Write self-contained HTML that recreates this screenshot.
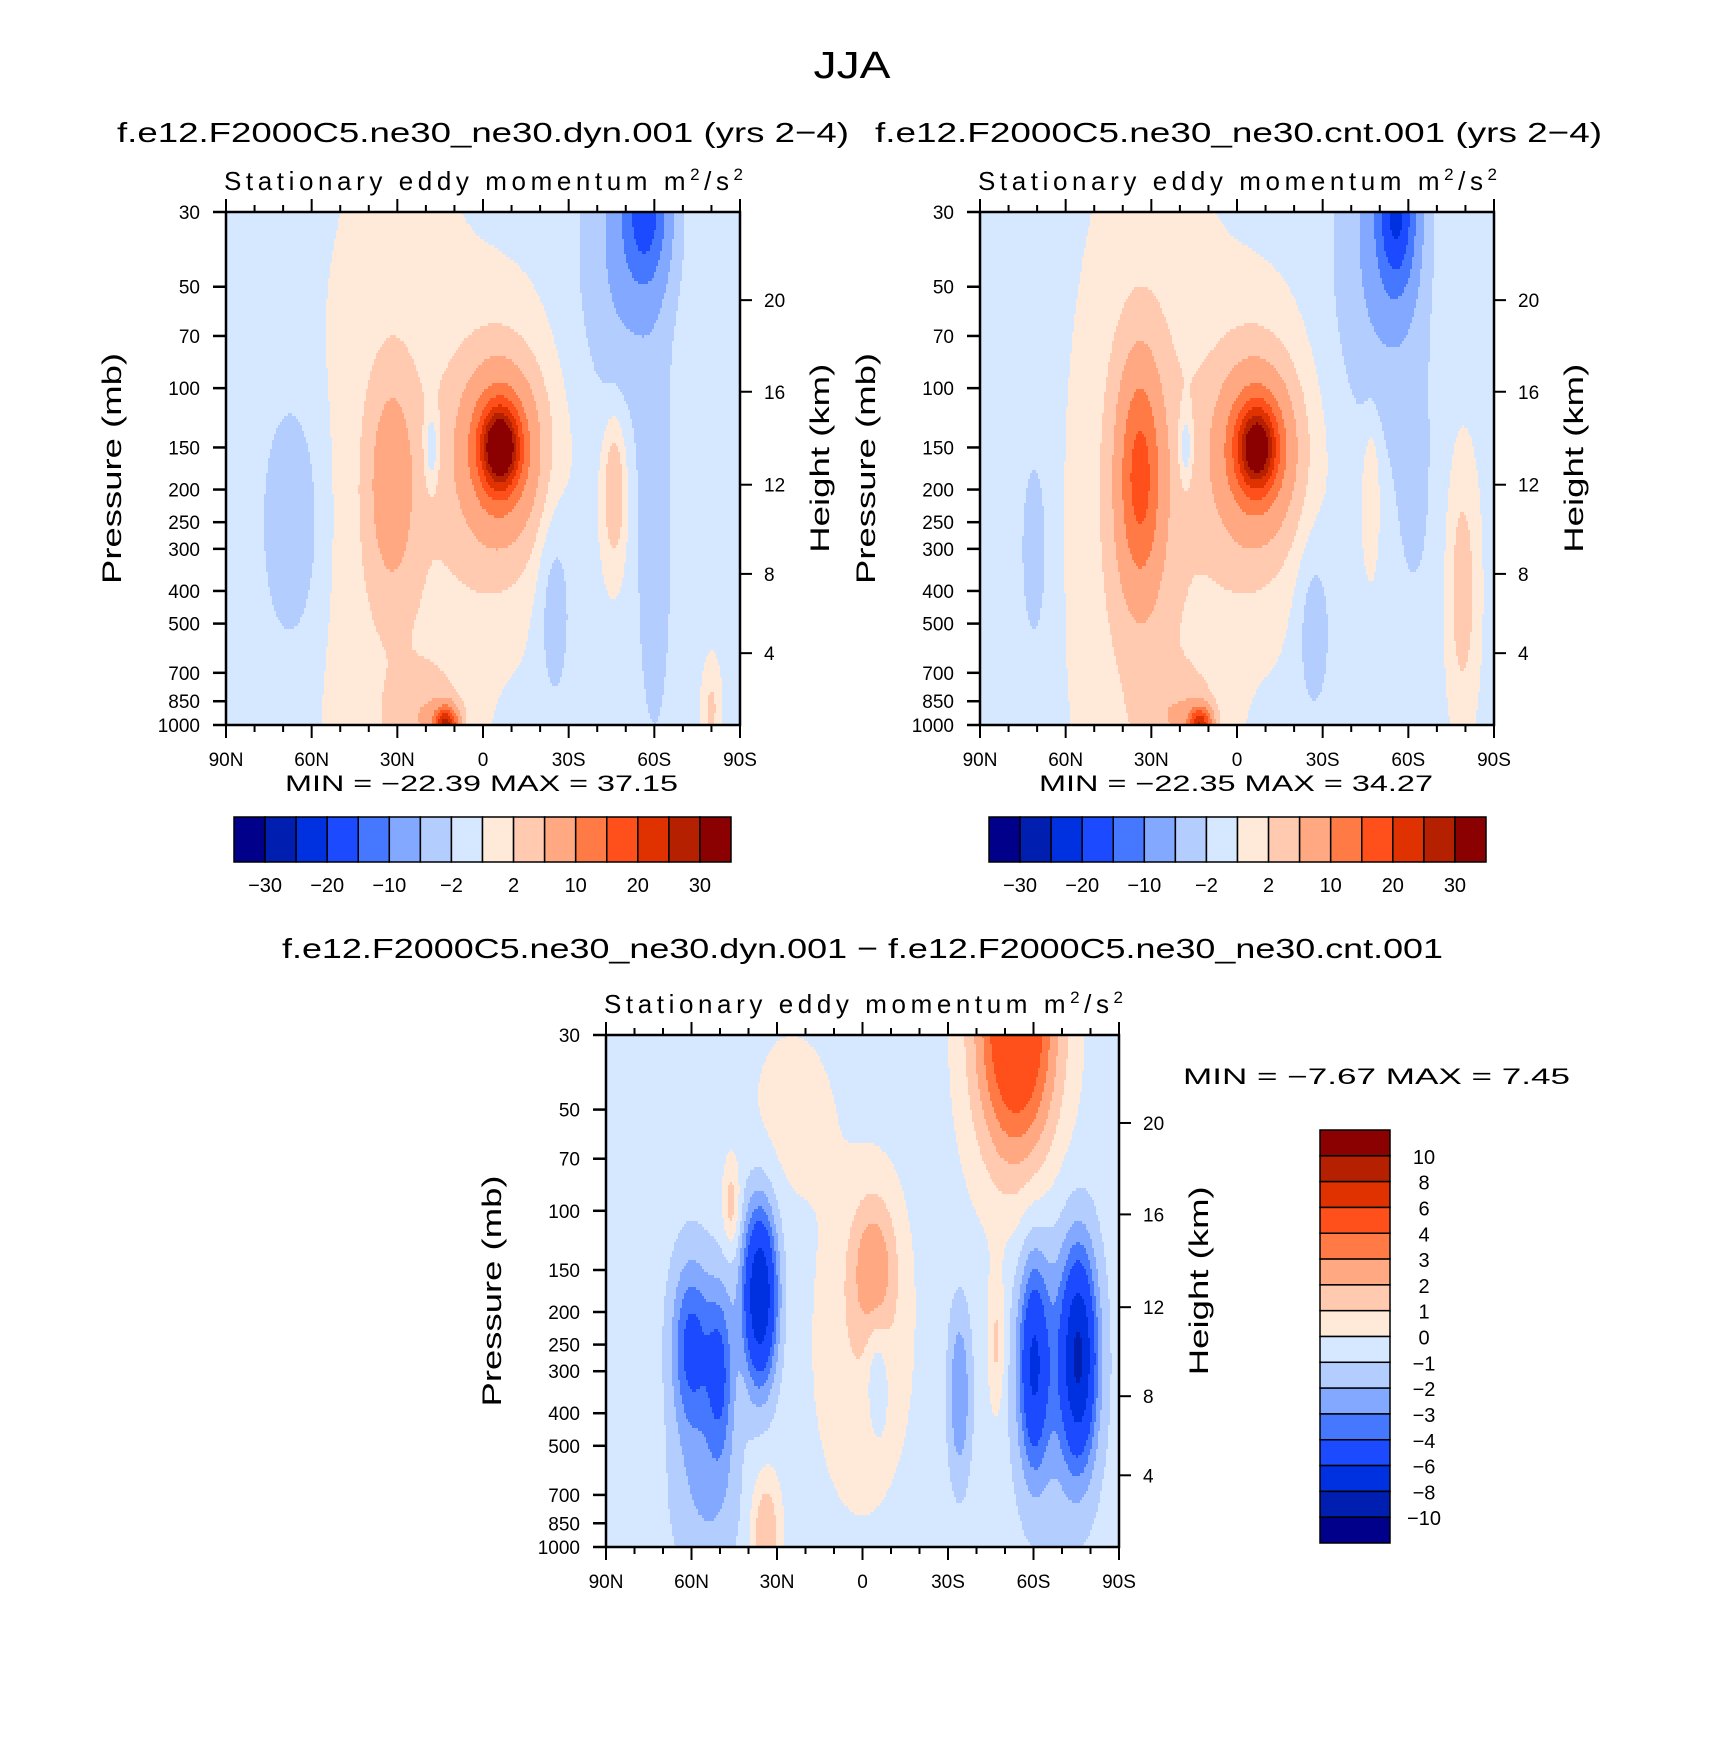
<!DOCTYPE html>
<html><head><meta charset="utf-8">
<style>
html,body{margin:0;padding:0;background:#fff;}
svg{display:block;font-family:"Liberation Sans",sans-serif;}
</style></head>
<body>
<svg id="fig" width="1710" height="1758" viewBox="0 0 1710 1758" xmlns="http://www.w3.org/2000/svg">
<text x="852" y="78" font-size="38" text-anchor="middle" textLength="77" lengthAdjust="spacingAndGlyphs">JJA</text>
<text x="117" y="142" font-size="28" textLength="732" lengthAdjust="spacingAndGlyphs">f.e12.F2000C5.ne30_ne30.dyn.001 (yrs 2−4)</text>
<text x="875" y="142" font-size="28" textLength="727" lengthAdjust="spacingAndGlyphs">f.e12.F2000C5.ne30_ne30.cnt.001 (yrs 2−4)</text>
<text x="282" y="958" font-size="28" textLength="1161" lengthAdjust="spacingAndGlyphs">f.e12.F2000C5.ne30_ne30.dyn.001 − f.e12.F2000C5.ne30_ne30.cnt.001</text>
<g id="panels"></g>
</svg>
<script>
// ---- shared data ----
const pressTicks = [30,50,70,100,150,200,250,300,400,500,700,850,1000];
const heightTickLabels = [20,16,12,8,4];
const heightTickPress = [54.8,102.5,193.5,356,612];
const latTickLabels = ['90N','60N','30N','0','30S','60S','90S'];
const latTickValues = [90,60,30,0,-30,-60,-90];
const absLevels = [-30,-25,-20,-15,-10,-5,-2,0,2,5,10,15,20,25,30];
const absLabels = ['−30','−20','−10','−2','2','10','20','30'];
const diffLevels = [-10,-8,-6,-4,-3,-2,-1,0,1,2,3,4,6,8,10];
const diffLabels = ['10','8','6','4','3','2','1','0','−1','−2','−3','−4','−6','−8','−10'];
const colors16 = ['#00008b','#001eb0','#0031e0','#1c4aff','#4577ff','#82a9ff','#b3cdff','#d6e8ff','#ffeada','#ffcab0','#ffa882','#ff7a45','#ff4f1a','#e03200','#b52000','#8b0000'];

// ---- dyn panel field (blobs: lat, pressure, amplitude, lat-width, lnp-width) ----
const dynLat = [-6,-6,-5,32,30,67,18,-57,-50,-60,-25,-46,13,20,-80];
const dynP   = [150,150,170,190,300,250,150,30,40,300,440,200,1000,950,900];
const dynAmp = [26,13,5,7,2.2,-4,-4,-14,-5,-3.5,-3,5,25,4,3];
const dynLW  = [6,12,18,8,25,10,2.5,8,15,6,6,4,4,12,3];
const dynPW  = [0.25,0.5,0.9,0.7,2.5,0.8,0.25,0.5,1.0,1.3,0.7,0.5,0.12,0.3,0.3];
const dynBase = -0.5;
// ---- cnt panel field ----
const cntLat = [-7,-7,-5,34,34,30,71,-56,-50,-27,-62,-79,-47,13,20,18];
const cntP   = [150,150,170,180,200,300,300,30,40,520,200,400,200,1000,950,150];
const cntAmp = [22,13,5,12,4,2.2,-3,-17,-5,-3,-2,4,3,22,4,-4];
const cntLW  = [6,12,18,7,12,25,5,7,15,6,8,5,3,4,12,2.5];
const cntPW  = [0.25,0.5,0.9,0.7,1.1,2.5,0.7,0.55,1.1,0.6,1.0,0.8,0.5,0.12,0.3,0.25];
const cntBase = -0.5;
// ---- difference panel field ----
const diffLat = [-54,60,50,36,46,-4,-5,-60,-76,-68,-34,-47,0,25,34,55];
const diffP   = [28,254,300,179,96,147,300,285,270,300,350,250,250,50,900,700];
const diffAmp = [6.5,-4,-3.5,-7.5,2,2.5,-1.5,-4.5,-6.5,-2,-2.5,1.8,1.3,1.0,2.5,-1.5];
const diffLW  = [15,7,5,6,3,8,4,5,6,14,4,3,18,15,5,12];
const diffPW  = [1.0,0.6,0.6,0.6,0.3,0.5,0.4,0.7,0.7,1.0,0.6,0.5,1.2,0.6,0.4,0.6];
const diffBase = -0.5;

const NS='http://www.w3.org/2000/svg';
const root=document.getElementById('panels');
function mk(tag,attrs,parent){const e=document.createElementNS(NS,tag);for(const k in attrs)e.setAttribute(k,attrs[k]);(parent||root).appendChild(e);return e;}
const LP0=Math.log(30),LP1=Math.log(1000);

function drawPanel(name,X0,Y0,W,H,lat,p,amp,lw,pw,base,levels){
  const g=mk('g',{});
  
  
  const xOf=l=>X0+(90-l)/180*W;
  const yOf=pr=>Y0+(Math.log(pr)-LP0)/(LP1-LP0)*H;
  const lnp=p.map(v=>Math.log(v));
  function field(la,pr){let v=base;const lp=Math.log(pr);
    for(let i=0;i<lat.length;i++){const a=(la-lat[i])/lw[i],b=(lp-lnp[i])/pw[i];v+=amp[i]*Math.exp(-a*a-b*b);}return v;}
  function cls(v){let k=0;while(k<levels.length&&v>=levels[k])k++;return k;}
  const field_g=mk('g',{},g);
  
  
  const dx=2,dy=3;
  for(let y=0;y<H;y+=dy){
    const pr=Math.exp(LP0+(y+dy/2)/H*(LP1-LP0));
    let runStart=0,runC=-1;
    for(let x=0;x<W+dx;x+=dx){
      let c=-2;
      if(x<W){const la=90-(x+dx/2)/W*180;c=cls(field(la,pr));}
      if(c!==runC){
        if(runC>=0){mk('rect',{x:X0+runStart,y:Y0+y,width:Math.min(x,W)-runStart+0.6,height:Math.min(dy,H-y)+0.6,fill:colors16[runC]},field_g);}
        runStart=x;runC=c;
      }
    }
  }
  const fr=mk('rect',{x:X0,y:Y0,width:W,height:H,fill:'none',stroke:'#000','stroke-width':2.5},g);
  
  
  for(let l=90;l>=-90;l-=10){
    const x=xOf(l),major=(l%30===0),len=major?13:7;
    mk('line',{x1:x,y1:Y0,x2:x,y2:Y0-len,stroke:'#000','stroke-width':2},g);
    mk('line',{x1:x,y1:Y0+H,x2:x,y2:Y0+H+len,stroke:'#000','stroke-width':2},g);
  }
  latTickValues.forEach((l,i)=>{
    const t=mk('text',{x:xOf(l),y:Y0+H+41,'font-size':19,'text-anchor':'middle'},g);
    t.textContent=latTickLabels[i];
    
    
  });
  pressTicks.forEach(pr=>{
    const y=yOf(pr);
    mk('line',{x1:X0,y1:y,x2:X0-13,y2:y,stroke:'#000','stroke-width':2.5},g);
    const t=mk('text',{x:X0-26,y:y+7,'font-size':19,'text-anchor':'end'},g);
    t.textContent=pr;
    
    
  });
  heightTickPress.forEach((pr,i)=>{
    const y=yOf(pr);
    mk('line',{x1:X0+W,y1:y,x2:X0+W+12,y2:y,stroke:'#000','stroke-width':2},g);
    const t=mk('text',{x:X0+W+24,y:y+7,'font-size':19},g);
    t.textContent=heightTickLabels[i];
    
    
  });
  const pt=mk('text',{x:0,y:0,'font-size':27,'text-anchor':'middle',transform:`translate(${X0-105},${Y0+H*0.5}) rotate(-90)`,textLength:231,lengthAdjust:'spacingAndGlyphs'},g);
  pt.textContent='Pressure (mb)';
  
  
  const ht=mk('text',{x:0,y:0,'font-size':27,'text-anchor':'middle',transform:`translate(${X0+W+89},${Y0+H*0.48}) rotate(-90)`,textLength:189,lengthAdjust:'spacingAndGlyphs'},g);
  ht.textContent='Height (km)';
  
  
  const st=mk('text',{x:X0-2,y:Y0-22,'font-size':26,textLength:519,lengthAdjust:'spacing'},g);
  st.innerHTML='Stationary eddy momentum  m<tspan dy="-10" font-size="17">2</tspan><tspan dy="10">/s</tspan><tspan dy="-10" font-size="17">2</tspan>';
  
  
  return g;
}

function hColorbar(X0,Y0,W,H,labels,name){
  const g=mk('g',{});
  
  
  const bw=W/16;
  colors16.forEach((c,i)=>{const r=mk('rect',{x:X0+i*bw,y:Y0,width:bw,height:H,fill:c,stroke:'#000','stroke-width':1.5},g);
    
    });
  labels.forEach((s,j)=>{const t=mk('text',{x:X0+(2*j+1)*bw,y:Y0+H+30,'font-size':20,'text-anchor':'middle'},g);t.textContent=s;
    
    });
}
function vColorbar(X0,Y0,W,H,labels,name){
  const g=mk('g',{});
  
  
  const bh=H/16;
  for(let i=0;i<16;i++){const r=mk('rect',{x:X0,y:Y0+i*bh,width:W,height:bh,fill:colors16[15-i],stroke:'#000','stroke-width':1.5},g);
    
    }
  labels.forEach((s,j)=>{const t=mk('text',{x:X0+W+34,y:Y0+(j+1)*bh+8,'font-size':20,'text-anchor':'middle'},g);t.textContent=s;
    
    });
}
function label(x,y,txt,len,name){const t=mk('text',{x:x,y:y,'font-size':22,textLength:len,lengthAdjust:'spacingAndGlyphs'});t.textContent=txt;
  
  }

drawPanel('dyn',226,212,514,513,dynLat,dynP,dynAmp,dynLW,dynPW,dynBase,absLevels);
drawPanel('cnt',980,212,514,513,cntLat,cntP,cntAmp,cntLW,cntPW,cntBase,absLevels);
drawPanel('diff',606,1035,513,512,diffLat,diffP,diffAmp,diffLW,diffPW,diffBase,diffLevels);
label(285,791,'MIN =  −22.39   MAX =   37.15',393,'dyn-min-max');
label(1039,791,'MIN =  −22.35   MAX =   34.27',394,'cnt-min-max');
label(1183,1084,'MIN =   −7.67   MAX =    7.45',387,'diff-min-max');
hColorbar(234,817,497,45,absLabels,'dyn-colorbar');
hColorbar(989,817,497,45,absLabels,'cnt-colorbar');
vColorbar(1320,1130,70,413,diffLabels,'diff-colorbar');
</script>
</body></html>
